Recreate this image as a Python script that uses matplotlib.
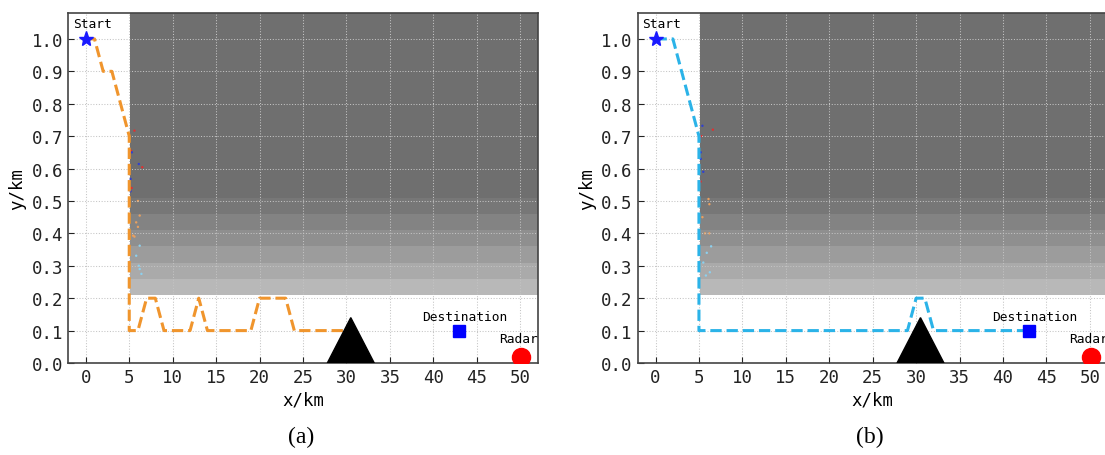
"""
Two path-planning panels over a radar threat field: (a) orange path, (b) blue path
"""
import numpy as np
import matplotlib
matplotlib.use("Agg")
from matplotlib import pyplot as plt

#Waypoints of the two paths (km)
path_a_x = [0, 1, 2, 3, 5, 5, 6, 7, 8, 9, 12, 13, 14, 19, 20, 23, 24, 30]
path_a_y = [1.0, 1.0, 0.9, 0.9, 0.7, 0.1, 0.1, 0.2, 0.2, 0.1, 0.1, 0.2, 0.1, 0.1, 0.2, 0.2, 0.1, 0.1]
path_b_x = [0, 2, 5, 5, 29, 30, 31, 32, 43]
path_b_y = [1.0, 1.0, 0.7, 0.1, 0.1, 0.2, 0.2, 0.1, 0.1]

#Start, destination, radar and mountain obstacle
start_xy = (0, 1.0)
dest_xy = (43, 0.1)
radar_xy = (50.1, 0.02)
mountain_x = [27.8, 30.5, 33.2]
mountain_y = [0.0, 0.14, 0.0]

#Radar threat field: grey bands (edges in y) starting at x = 5.1
field_x = [5.1, 60]
field_y = [0.21, 0.26, 0.31, 0.36, 0.41, 0.46, 0.51, 1.2]
field_grey = [0.72, 0.665, 0.61, 0.56, 0.515, 0.465, 0.435]

#Stray particles drawn near the field edge
dots_a_x = [5.6, 5.2, 5.3, 6.1, 6.5, 5.15, 5.27, 5.15, 6.0, 6.2, 5.8, 6.0, 5.45, 5.6, 6.2, 5.8, 6.2, 6.4, 6.1]
dots_a_y = [0.717, 0.655, 0.65, 0.614, 0.604, 0.568, 0.54, 0.53, 0.50, 0.455, 0.434, 0.42, 0.393, 0.39, 0.362, 0.331, 0.29, 0.275, 0.30]
dots_b_x = [5.4, 6.6, 5.3, 5.2, 5.2, 5.5, 5.2, 6.1, 6.2, 5.4, 5.7, 6.2, 6.4, 5.9, 5.5, 6.25, 5.8]
dots_b_y = [0.732, 0.72, 0.70, 0.65, 0.63, 0.59, 0.56, 0.506, 0.49, 0.45, 0.40, 0.40, 0.36, 0.34, 0.31, 0.28, 0.27]

MONO = "DejaVu Sans Mono"


def dot_colour(y):
    if y > 0.51:
        return "#3040d0" if round(y * 100) % 2 else "#e03030"
    if y > 0.38:
        return "#e8a060"
    return "#8cd0ee"


def draw_panel(ax, px, py, colour, dx, dy):
    grey = np.array(field_grey).reshape(-1, 1)
    ax.pcolormesh(field_x, field_y, grey, cmap="gray", vmin=0, vmax=1,
                  shading="flat", zorder=1)
    ax.scatter(dx, dy, s=3, c=[dot_colour(v) for v in dy], linewidths=0, zorder=1.2)

    ax.plot(px, py, "--", color=colour, lw=2.2, zorder=2)
    ax.fill(mountain_x, mountain_y, color="black", zorder=3)
    ax.plot(*start_xy, marker="*", color="#1a1aff", ms=11, ls="none", zorder=4)
    ax.plot(*dest_xy, marker="s", color="#0000ff", ms=9, ls="none", zorder=4)
    ax.plot(*radar_xy, marker="o", color="#ff0000", ms=13, ls="none", zorder=4)

    ax.text(-1.5, 1.037, "Start", fontsize=9.3, family=MONO, va="baseline")
    ax.text(38.7, 0.134, "Destination", fontsize=9.3, family=MONO, va="baseline")
    ax.text(47.6, 0.064, "Radar", fontsize=9.3, family=MONO, va="baseline", clip_on=False)

    ax.set_xlim(-2.05, 52.05)
    ax.set_ylim(0, 1.08)
    ax.set_xticks(np.arange(0, 51, 5))
    ax.set_yticks(np.arange(0, 1.01, 0.1))
    ax.set_yticklabels(["%.1f" % v for v in np.arange(0, 1.01, 0.1)])
    ax.tick_params(direction="in", length=4, labelsize=12.5, colors="#222222")
    for lab in ax.get_xticklabels() + ax.get_yticklabels():
        lab.set_family(MONO)
    ax.set_xlabel("x/km", fontsize=12.5, family=MONO, labelpad=3)
    ax.set_ylabel("y/km", fontsize=12.5, family=MONO, labelpad=4)
    ax.set_axisbelow("line")
    ax.grid(True, ls=":", lw=0.75, color="#c4c4c4")
    for s in ax.spines.values():
        s.set_color("#444444")
        s.set_linewidth(1.2)


fig = plt.figure(figsize=(11.05, 4.56), dpi=100)
ax_a = fig.add_axes([68 / 1105, 92 / 456, 470 / 1105, 350 / 456])
ax_b = fig.add_axes([637.7 / 1105, 92 / 456, 470 / 1105, 350 / 456])

draw_panel(ax_a, path_a_x, path_a_y, "#f0952d", dots_a_x, dots_a_y)
draw_panel(ax_b, path_b_x, path_b_y, "#2bb3e8", dots_b_x, dots_b_y)

fig.text(301 / 1105, 1 - 437 / 456, "(a)", fontsize=17, family="Liberation Serif",
         ha="center", va="center")
fig.text(870 / 1105, 1 - 437 / 456, "(b)", fontsize=17, family="Liberation Serif",
         ha="center", va="center")

fig.savefig("out.png", dpi=100)
